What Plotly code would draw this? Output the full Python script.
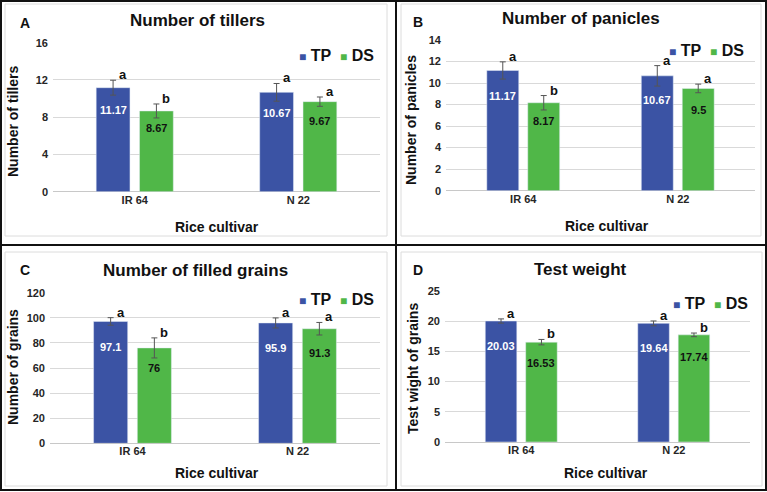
import plotly.graph_objects as go

cultivars = ["IR 64", "N 22"]
series_names = ["TP", "DS"]

tillers_tp = [11.17, 10.67]
tillers_ds = [8.67, 9.67]
tillers_tp_err = [0.8, 0.95]
tillers_ds_err = [0.75, 0.5]
tillers_tp_sig = ["a", "a"]
tillers_ds_sig = ["b", "a"]

panicles_tp = [11.17, 10.67]
panicles_ds = [8.17, 9.5]
panicles_tp_err = [0.8, 0.95]
panicles_ds_err = [0.67, 0.4]
panicles_tp_sig = ["a", "a"]
panicles_ds_sig = ["b", "a"]

grains_tp = [97.1, 95.9]
grains_ds = [76, 91.3]
grains_tp_err = [3, 4]
grains_ds_err = [8, 5]
grains_tp_sig = ["a", "a"]
grains_ds_sig = ["b", "a"]

weight_tp = [20.03, 19.64]
weight_ds = [16.53, 17.74]
weight_tp_err = [0.35, 0.4]
weight_ds_err = [0.45, 0.3]
weight_tp_sig = ["a", "a"]
weight_ds_sig = ["b", "b"]

W, H = 767, 492
BLUE = "#3B53A4"
GREEN = "#50B748"
FONT = "Liberation Sans, Arial, sans-serif"
BARGAP = 0.47
GROUPGAP = 0.22


def px(x):
    return x / W


def py(y):
    return 1 - y / H


# panel settings (pixel boxes)
panels = [
    dict(letter="A", title="Number of tillers", ytitle="Number of tillers",
         tp=tillers_tp, ds=tillers_ds, tp_err=tillers_tp_err, ds_err=tillers_ds_err,
         tp_sig=tillers_tp_sig, ds_sig=tillers_ds_sig, yrange=[0, 16], dtick=4,
         plot=(53, 380, 42.7, 191.7), title_xy=(197, 20), letter_xy=(25, 23),
         ytitle_xy=(13, 122), xtitle_xy=(217, 227), legend_xy=(376, 55)),
    dict(letter="B", title="Number of panicles", ytitle="Number of panicles",
         tp=panicles_tp, ds=panicles_ds, tp_err=panicles_tp_err, ds_err=panicles_ds_err,
         tp_sig=panicles_tp_sig, ds_sig=panicles_ds_sig, yrange=[0, 14], dtick=2,
         plot=(446, 755, 40, 190.7), title_xy=(581, 19), letter_xy=(418, 22),
         ytitle_xy=(411, 120), xtitle_xy=(607, 226), legend_xy=(746, 51)),
    dict(letter="C", title="Number of filled grains", ytitle="Number of grains",
         tp=grains_tp, ds=grains_ds, tp_err=grains_tp_err, ds_err=grains_ds_err,
         tp_sig=grains_tp_sig, ds_sig=grains_ds_sig, yrange=[0, 120], dtick=20,
         plot=(50, 380, 292.7, 443.3), title_xy=(195, 270), letter_xy=(25, 270),
         ytitle_xy=(13, 367), xtitle_xy=(217, 473), legend_xy=(376, 299)),
    dict(letter="D", title="Test weight", ytitle="Test wight of grains",
         tp=weight_tp, ds=weight_ds, tp_err=weight_tp_err, ds_err=weight_ds_err,
         tp_sig=weight_tp_sig, ds_sig=weight_ds_sig, yrange=[0, 25], dtick=5,
         plot=(445, 750, 291, 442), title_xy=(580, 269), letter_xy=(418, 270),
         ytitle_xy=(413, 369), xtitle_xy=(606, 473), legend_xy=(750, 303)),
]

fig = go.Figure()
annotations = []


def paper_text(x, y, text, size, **kw):
    d = dict(x=px(x), y=py(y), xref="paper", yref="paper", text=text,
             showarrow=False, xanchor="center", yanchor="middle",
             font=dict(family=FONT, size=size, color="#111111"))
    d.update(kw)
    return d


for i, p in enumerate(panels):
    n = "" if i == 0 else str(i + 1)
    xa, ya = "x" + n, "y" + n
    x0, x1, y0, y1 = p["plot"]

    for name, vals, errs, color in [("TP", p["tp"], p["tp_err"], BLUE),
                                    ("DS", p["ds"], p["ds_err"], GREEN)]:
        fig.add_trace(go.Bar(
            x=cultivars, y=vals, name=name, marker_color=color,
            error_y=dict(type="data", array=errs, color="#555555", thickness=1, width=3),
            xaxis=xa, yaxis=ya, showlegend=False, hoverinfo="skip",
        ))

    fig.update_layout({
        "xaxis" + n: dict(domain=[px(x0), px(x1)], anchor=ya, showgrid=False,
                          showline=False, ticks="", fixedrange=True, automargin=False,
                          tickfont=dict(family=FONT, size=11, color="#262626"),
                          tickprefix="<b>", ticksuffix="</b>"),
        "yaxis" + n: dict(domain=[py(y1), py(y0)], anchor=xa, range=p["yrange"],
                          dtick=p["dtick"], showgrid=True, gridcolor="#d9d9d9",
                          gridwidth=1, zeroline=True, zerolinecolor="#c8c8c8",
                          zerolinewidth=1, showline=False, ticks="", automargin=False,
                          ticklabelstandoff=4, fixedrange=True,
                          tickfont=dict(family=FONT, size=11, color="#262626"),
                          tickprefix="<b>", ticksuffix="</b>"),
    })

    # offset of each bar centre from the category centre, in pixels
    slot = (x1 - x0) / len(cultivars) * (1 - BARGAP) / 2
    for j, c in enumerate(cultivars):
        for k, (vals, errs, sig, tcol) in enumerate([
                (p["tp"], p["tp_err"], p["tp_sig"], "white"),
                (p["ds"], p["ds_err"], p["ds_sig"], "#111111")]):
            shift = (k - 0.5) * slot
            annotations.append(dict(
                x=c, y=vals[j] * 0.79, xref=xa, yref=ya, xshift=shift,
                xanchor="center", yanchor="middle",
                text="<b>%g</b>" % vals[j], showarrow=False,
                font=dict(family=FONT, size=11, color=tcol)))
            annotations.append(dict(
                x=c, y=vals[j] + errs[j], xref=xa, yref=ya, xshift=shift + 10,
                xanchor="center", yanchor="bottom", yshift=-4,
                text="<b>%s</b>" % sig[j], showarrow=False,
                font=dict(family=FONT, size=13, color="#111111")))

    annotations.append(paper_text(*p["title_xy"], "<b>%s</b>" % p["title"], 17))
    annotations.append(paper_text(*p["letter_xy"], "<b>%s</b>" % p["letter"], 14))
    annotations.append(paper_text(*p["ytitle_xy"], "<b>%s</b>" % p["ytitle"], 14,
                                  textangle=-90))
    annotations.append(paper_text(*p["xtitle_xy"], "<b>Rice cultivar</b>", 14))
    legend_text = "&nbsp;&nbsp;".join(
        '<span style="font-size:12px;color:%s">■</span>&nbsp;<b>%s</b>' % (col, nm)
        for nm, col in zip(series_names, [BLUE, GREEN]))
    annotations.append(paper_text(*p["legend_xy"], legend_text, 16, xanchor="right"))

shapes = []
# light inner chart borders
for bx0, by0, bx1, by1 in [(5, 4, 387, 236), (401, 4, 761, 236),
                           (5, 252, 387, 486), (401, 252, 762, 486)]:
    shapes.append(dict(type="rect", xref="paper", yref="paper",
                       x0=px(bx0), x1=px(bx1), y0=py(by1), y1=py(by0),
                       line=dict(color="#dcdcdc", width=1)))
# black frame and dividers
shapes.append(dict(type="rect", xref="paper", yref="paper", x0=px(1), x1=px(766),
                   y0=py(490), y1=py(1), line=dict(color="#111111", width=2)))
shapes.append(dict(type="line", xref="paper", yref="paper", x0=px(396), x1=px(396),
                   y0=py(490), y1=py(1), line=dict(color="#111111", width=2)))
shapes.append(dict(type="line", xref="paper", yref="paper", x0=px(1), x1=px(766),
                   y0=py(245), y1=py(245), line=dict(color="#111111", width=2)))

fig.update_layout(
    width=W, height=H, autosize=False,
    margin=dict(l=0, r=0, t=0, b=0, autoexpand=False),
    paper_bgcolor="white", plot_bgcolor="white",
    barmode="group", bargap=BARGAP, bargroupgap=GROUPGAP,
    annotations=annotations, shapes=shapes,
    font=dict(family=FONT),
)

fig.write_html("out.html", config={"displayModeBar": False},
               post_script="document.body.style.margin='0';")
